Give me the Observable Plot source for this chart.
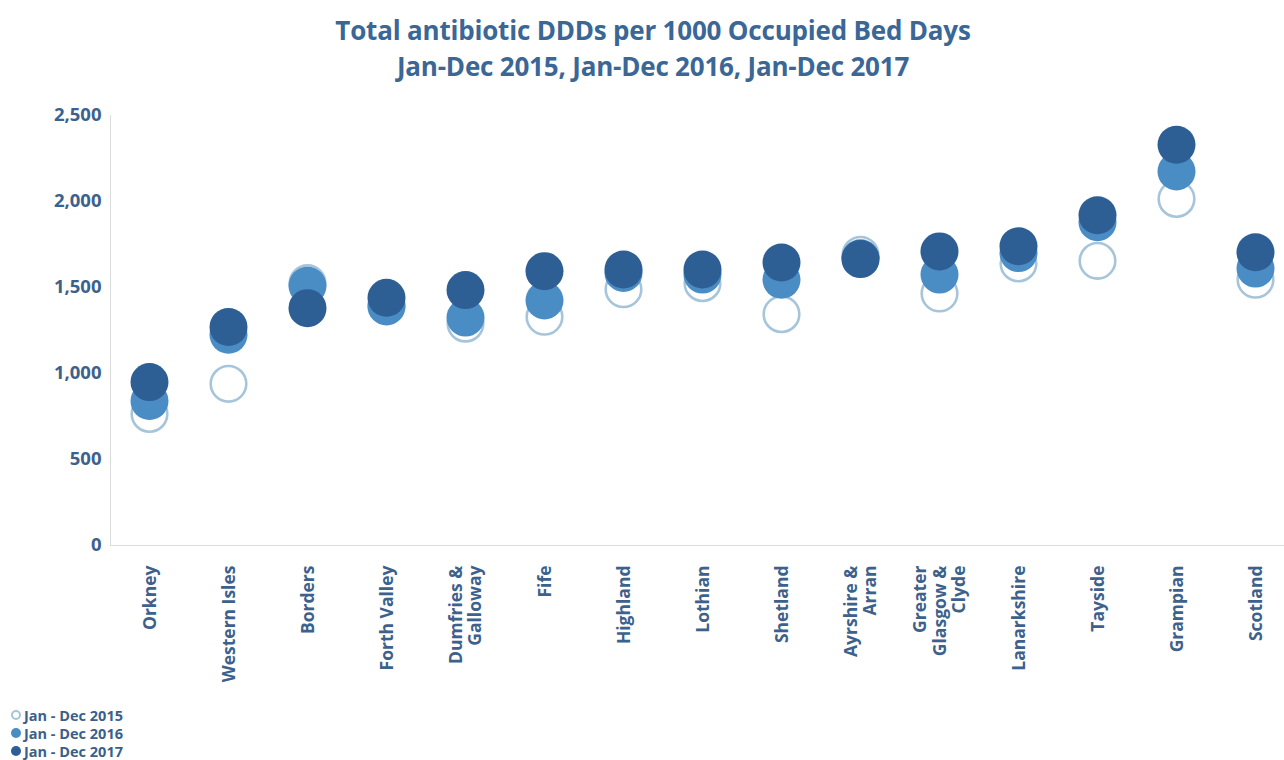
<!DOCTYPE html>
<html>
<head>
<meta charset="utf-8">
<script src="https://cdn.jsdelivr.net/npm/d3@7"></script>
<script src="https://cdn.jsdelivr.net/npm/@observablehq/plot@0.6"></script>
<style>
  html, body { margin: 0; padding: 0; background: #fff; }
  body { width: 1284px; height: 760px; overflow: hidden; font-family: "Open Sans", Lato, sans-serif; }
  #title { height: 95px; box-sizing: border-box; padding: 12px 0 0 22px; text-align: center;
           color: #3a6795; font-weight: bold; font-size: 26px; line-height: 36px; letter-spacing: -0.2px; }
  #chart svg { display: block; }
  #legend { padding: 1px 0 0 11px; font-size: 14.5px; font-weight: bold; color: #3c5f8a; }
  .item { display: flex; align-items: center; height: 18px; }
  .sw { width: 10px; height: 10px; border-radius: 50%; box-sizing: border-box; margin-right: 3px; }
</style>
</head>
<body>
<div id="title">Total antibiotic DDDs per 1000 Occupied Bed Days<br>Jan-Dec 2015, Jan-Dec 2016, Jan-Dec 2017</div>
<div id="chart"></div>
<div id="legend"></div>
<script>
// Health boards, ordered as on the axis
const regions = ["Orkney", "Western Isles", "Borders", "Forth Valley", "Dumfries & Galloway", "Fife",
  "Highland", "Lothian", "Shetland", "Ayrshire & Arran", "Greater Glasgow & Clyde", "Lanarkshire",
  "Tayside", "Grampian", "Scotland"];

// Axis label line breaks
const regionLabels = ["Orkney", "Western Isles", "Borders", "Forth Valley", "Dumfries &\nGalloway", "Fife",
  "Highland", "Lothian", "Shetland", "Ayrshire &\nArran", "Greater\nGlasgow &\nClyde", "Lanarkshire",
  "Tayside", "Grampian", "Scotland"];

// Total antibiotic DDDs per 1000 occupied bed days
const ddd2015 = [765, 940, 1525, 1395, 1290, 1330, 1490, 1525, 1345, 1690, 1465, 1640, 1655, 2015, 1545];
const ddd2016 = [840, 1225, 1510, 1390, 1325, 1425, 1585, 1575, 1545, 1670, 1575, 1700, 1880, 2175, 1610];
const ddd2017 = [950, 1270, 1380, 1440, 1485, 1595, 1605, 1605, 1645, 1665, 1710, 1740, 1920, 2330, 1705];

const periods = ["Jan - Dec 2015", "Jan - Dec 2016", "Jan - Dec 2017"];
const yTicks = [0, 500, 1000, 1500, 2000, 2500];

const colLight = "#a6c5da";
const colMid = "#4a8cc4";
const colDark = "#2d5e94";

const rows = (vals, period) => regions.map((r, i) => ({region: r, value: vals[i], period}));
const d2015 = rows(ddd2015, periods[0]);
const d2016 = rows(ddd2016, periods[1]);
const d2017 = rows(ddd2017, periods[2]);

const labelOf = new Map(regions.map((r, i) => [r, regionLabels[i]]));

const chart = Plot.plot({
  width: 1284,
  height: 610,
  marginTop: 20,
  marginBottom: 160,
  marginLeft: 110,
  marginRight: 0,
  style: {fontFamily: "'Open Sans', Lato, sans-serif", color: "#3c618c", background: "#fff"},
  x: {type: "point", domain: regions, range: [149, 1255], padding: 0, label: null},
  y: {domain: [0, 2500], label: null},
  marks: [
    Plot.frame({anchor: "left", stroke: "#dcdcdc"}),
    Plot.ruleY([0], {stroke: "#dcdcdc"}),
    Plot.axisY({ticks: yTicks, tickFormat: d3.format(","), tickSize: 0, tickPadding: 9,
      fontSize: 18.5, fontWeight: "bold", fill: "#3c618c", label: null}),
    Plot.axisX({tickSize: 0, tickPadding: 20, tickRotate: -90, tickFormat: d => labelOf.get(d),
      fontSize: 17.5, fontWeight: "bold", fill: "#3c618c", lineHeight: 1.1, label: null}),
    Plot.dot(d2015, {x: "region", y: "value", r: 17.8, stroke: colLight, strokeWidth: 2.6, fill: "#fff", fillOpacity: 0}),
    Plot.dot(d2016, {x: "region", y: "value", r: 19, fill: colMid}),
    Plot.dot(d2017, {x: "region", y: "value", r: 19, fill: colDark})
  ]
});
document.getElementById("chart").appendChild(chart);

// Legend
const legend = document.getElementById("legend");
const swatches = [
  {border: `2px solid ${colLight}`, bg: "#fff"},
  {border: "none", bg: colMid},
  {border: "none", bg: colDark}
];
periods.forEach((p, i) => {
  const item = document.createElement("div");
  item.className = "item";
  const sw = document.createElement("span");
  sw.className = "sw";
  sw.style.border = swatches[i].border;
  sw.style.background = swatches[i].bg;
  item.appendChild(sw);
  item.appendChild(document.createTextNode(p));
  legend.appendChild(item);
});
</script>
</body>
</html>
